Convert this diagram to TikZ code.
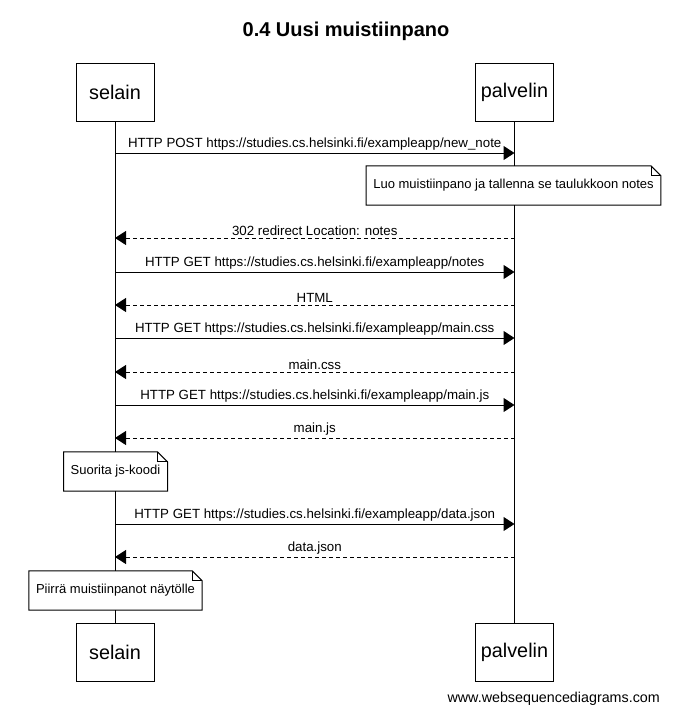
\documentclass[tikz,border=0pt]{standalone}
\usepackage{fontspec}
\setmainfont{Liberation Sans}
\usetikzlibrary{arrows.meta}

\tikzset{
  actor/.style={draw,line width=1pt,minimum width=78pt,minimum height=58pt,font=\fontsize{19.8}{22}\selectfont},
  msg/.style={line width=1pt,-{Triangle[length=11pt,width=14pt]}},
  reply/.style={msg,dash pattern=on 4pt off 3pt},
  lbl/.style={font=\fontsize{13.3}{15}\selectfont,inner sep=2pt},
  note/.style={fill=white,font=\fontsize{13}{15}\selectfont,minimum height=39pt,inner xsep=7pt}
}

\begin{document}
\begin{tikzpicture}[x=1pt,y=-1pt]
  \useasboundingbox[fill=white] (0,0) rectangle (693,728);

  \node[font=\bfseries\fontsize{20}{24}\selectfont] (title) at (346,31) {0.4 Uusi muistiinpano};

  % participants
  \node[actor] (selainTop) at (115,92) {selain};
  \node[actor] (palvelinTop) at (514.5,92) {palvelin};
  \node[actor] (selainBot) at (115,652) {selain};
  \node[actor] (palvelinBot) at (514.5,652) {palvelin};
  \draw[line width=1pt] (selainTop) -- (selainBot);
  \draw[line width=1pt] (palvelinTop) -- (palvelinBot);

  % notes
  \node[note] (luo) at (513.5,185.5) {Luo muistiinpano ja tallenna se taulukkoon notes};
  \node[note] (suorita) at (115.5,471.5) {Suorita js-koodi};
  \node[note] (piirra) at (115.5,590.5) {Piirrä muistiinpanot näytölle};
  \foreach \n in {luo,suorita,piirra} {
    \fill[white] ([xshift=-10pt]\n.north east) -- (\n.north east) -- ([yshift=-10pt]\n.north east) -- cycle;
    \draw[line width=1pt,line join=miter] (\n.north west) -- ([xshift=-10pt]\n.north east)
      -- ([yshift=-10pt]\n.north east) -- (\n.south east) -- (\n.south west) -- cycle;
    \draw[line width=0.8pt] ([xshift=-10pt]\n.north east) -- ([xshift=-10pt,yshift=-10pt]\n.north east)
      -- ([yshift=-10pt]\n.north east);
  }

  % message points on the lifelines
  \foreach \i/\y in {1/153,2/238,3/272,4/305,5/338,6/372,7/405,8/438,9/524,10/557} {
    \coordinate (s\i) at (115,\y);
    \coordinate (p\i) at (514.5,\y);
  }

  \draw[msg] (s1) -- (p1) node[lbl,midway,above] {HTTP POST https://studies.cs.helsinki.fi/exampleapp/new\_note};
  \draw[reply] (p2) -- (s2) node[lbl,midway,above] {302 redirect Location: notes};
  \draw[msg] (s3) -- (p3) node[lbl,midway,above] {HTTP GET https://studies.cs.helsinki.fi/exampleapp/notes};
  \draw[reply] (p4) -- (s4) node[lbl,midway,above] {HTML};
  \draw[msg] (s5) -- (p5) node[lbl,midway,above] {HTTP GET https://studies.cs.helsinki.fi/exampleapp/main.css};
  \draw[reply] (p6) -- (s6) node[lbl,midway,above] {main.css};
  \draw[msg] (s7) -- (p7) node[lbl,midway,above] {HTTP GET https://studies.cs.helsinki.fi/exampleapp/main.js};
  \draw[reply] (p8) -- (s8) node[lbl,midway,above] {main.js};
  \draw[msg] (s9) -- (p9) node[lbl,midway,above] {HTTP GET https://studies.cs.helsinki.fi/exampleapp/data.json};
  \draw[reply] (p10) -- (s10) node[lbl,midway,above] {data.json};

  \node[font=\fontsize{14.3}{16}\selectfont,inner sep=2pt,anchor=east] (footer) at (662,699) {www.websequencediagrams.com};
\end{tikzpicture}
\end{document}
